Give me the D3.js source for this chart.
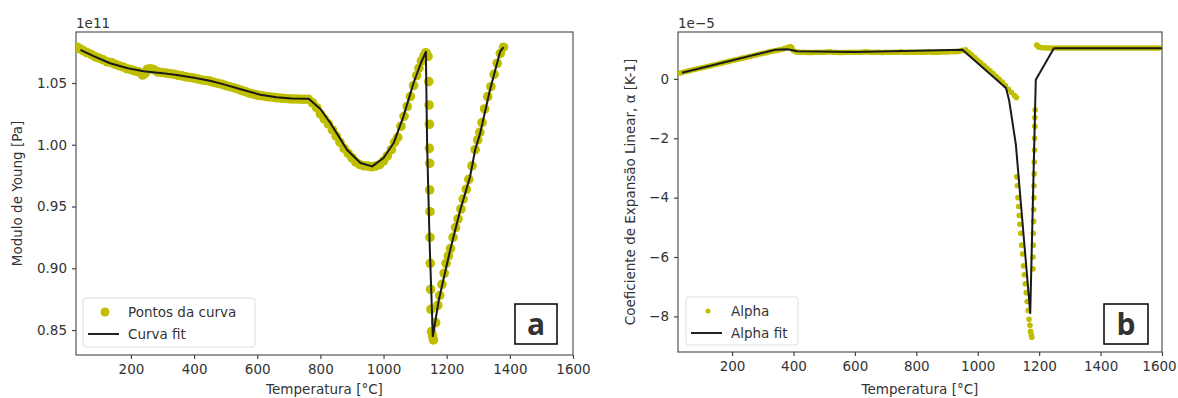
<!DOCTYPE html>
<html>
<head>
<meta charset="utf-8">
<script src="https://cdn.jsdelivr.net/npm/d3@7"></script>
<style>
  body { margin: 0; background: #fff; }
  svg text { font-family: "DejaVu Sans", sans-serif; fill: #333; }
</style>
</head>
<body>
<svg id="chart" width="1178" height="398"></svg>
<script>
// ---- panel a: Young's modulus (units of 1e11 Pa) ----
const young_pts_T = [30,40,50,62,75,88,100,112,125,138,150,162,175,188,200,212,225,237,245,252,262,272,285,298,312,325,338,350,362,375,388,400,412,425,438,450,462,475,488,500,512,525,538,550,562,575,588,600,612,625,638,650,662,675,688,700,712,725,738,750,762,
  775,788,800,812,825,838,850,862,875,888,900,912,925,938,950,962,975,988,1000,1012,1025,1035,1045,1055,1065,1075,1085,1095,1105,1112,1120,1128,1134,1141,
  1143,1144,1145,1145,1146,1146,1147,1147,1148,1149,1150,1152,1155,1158,
  1165,1172,1178,1185,1192,1198,1205,1212,1220,1228,1236,1245,1252,1262,1270,1280,1290,1298,1305,1312,1320,1330,1340,1350,1360,1370,1380];
const young_pts_E = [1.0790,1.0775,1.0760,1.0745,1.0730,1.0712,1.0700,1.0688,1.0672,1.0665,1.0652,1.0640,1.0630,1.0615,1.0608,1.0598,1.0590,1.0565,1.0578,1.0612,1.0615,1.0608,1.0590,1.0585,1.0580,1.0575,1.0570,1.0562,1.0558,1.0550,1.0545,1.0540,1.0532,1.0525,1.0520,1.0515,1.0505,1.0498,1.0490,1.0480,1.0470,1.0462,1.0452,1.0440,1.0430,1.0418,1.0410,1.0402,1.0398,1.0392,1.0388,1.0385,1.0380,1.0378,1.0375,1.0372,1.0370,1.0370,1.0368,1.0368,1.0368,
  1.0340,1.0300,1.0250,1.0210,1.0170,1.0120,1.0070,1.0020,0.9970,0.9930,0.9895,0.9860,0.9840,0.9830,0.9828,0.9822,0.9828,0.9840,0.9870,0.9910,0.9960,1.0020,1.0060,1.0150,1.0230,1.0310,1.0390,1.0480,1.0560,1.0620,1.0680,1.0720,1.0745,1.0715,
  1.0511,1.0322,1.0166,0.9971,0.9850,0.9634,0.9458,0.9251,0.9040,0.8830,0.8668,0.8487,0.8452,0.8420,
  0.8560,0.8700,0.8780,0.8870,0.8960,0.9040,0.9100,0.9160,0.9250,0.9330,0.9400,0.9480,0.9560,0.9640,0.9720,0.9830,0.9960,1.0040,1.0100,1.0180,1.0290,1.0390,1.0470,1.0570,1.0660,1.0740,1.0790];
const young_fit_T = [40,80,134,190,240,300,345,400,450,500,556,610,661,710,763,800,832,860,884,927,964,1000,1032,1063,1095,1118,1134,1138,1146,1156,1175,1211,1243,1274,1290,1306,1337,1369,1380];
const young_fit_E = [1.0768,1.0720,1.0660,1.0620,1.0595,1.0580,1.0565,1.0542,1.0519,1.0485,1.0443,1.0405,1.0384,1.0375,1.0372,1.0290,1.0174,1.0060,0.9960,0.9852,0.9825,0.9893,1.0014,1.0230,1.0500,1.0660,1.0752,1.0000,0.9200,0.8450,0.8743,0.9148,0.9472,0.9741,0.9958,1.0094,1.0443,1.0752,1.0790];

// ---- panel b: thermal expansion coefficient (units of 1e-5 1/K) ----
const alpha_pts_T = [30,40,50,60,70,80,90,100,110,120,130,140,150,160,170,180,190,200,210,220,230,240,250,260,270,280,290,300,310,320,330,340,350,360,370,380,390,395,400,410,
  420,430,440,450,460,470,480,490,500,510,520,530,540,550,560,570,580,590,600,610,620,630,640,650,660,670,680,690,700,710,720,730,740,750,760,770,780,790,800,810,820,830,840,850,860,870,880,890,900,910,920,930,940,950,
  960,970,980,990,1000,1010,1020,1030,1040,1050,1060,1070,1080,1090,1100,1110,1120,1126,
  1127,1129,1131,1133,1135,1137,1140,1143,1146,1149,1152,1155,1158,1161,1164,1167,1170,1172,1174,1176,
  1180,1180,1181,1181,1182,1182,1183,1183,1184,1184,1185,1185,1186,1186,1187,
  1192,1196,1200,1210,1220,1230,1240,1250,1260,1270,1280,1290,1300,1310,1320,1330,1340,1350,1360,1370,1380,1390,1400,1410,1420,1430,1440,1450,1460,1470,1480,1490,1500,1510,1520,1530,1540,1550,1560,1570,1580,1590,1600];
const alpha_pts_v = [0.20,0.22,0.25,0.27,0.30,0.32,0.35,0.37,0.39,0.42,0.44,0.47,0.49,0.52,0.54,0.57,0.59,0.62,0.64,0.66,0.69,0.71,0.74,0.76,0.79,0.81,0.84,0.86,0.88,0.91,0.93,0.95,0.97,0.99,1.02,1.06,1.09,1.05,0.95,0.91,
  0.90,0.90,0.90,0.89,0.89,0.90,0.90,0.90,0.90,0.91,0.91,0.90,0.90,0.89,0.89,0.90,0.90,0.90,0.90,0.90,0.90,0.91,0.91,0.90,0.90,0.90,0.90,0.89,0.90,0.90,0.90,0.90,0.90,0.91,0.90,0.90,0.90,0.90,0.90,0.90,0.90,0.90,0.91,0.90,0.90,0.90,0.91,0.91,0.91,0.92,0.92,0.92,0.93,0.96,
  0.98,0.90,0.81,0.72,0.63,0.54,0.45,0.36,0.27,0.18,0.09,-0.01,-0.11,-0.22,-0.35,-0.46,-0.56,-0.63,
  -3.3,-3.6,-4.0,-4.3,-4.6,-4.9,-5.2,-5.6,-5.9,-6.3,-6.6,-6.9,-7.2,-7.5,-7.8,-8.1,-8.3,-8.5,-8.6,-8.7,
  -6.4,-6.0,-5.6,-5.2,-4.8,-4.4,-4.0,-3.6,-3.2,-2.8,-2.4,-2.0,-1.6,-1.3,-1.05,
  1.14,1.10,1.07,1.05,1.05,1.04,1.04,1.04,1.04,1.04,1.04,1.04,1.04,1.04,1.04,1.04,1.04,1.04,1.04,1.04,1.04,1.04,1.04,1.04,1.04,1.04,1.04,1.04,1.04,1.04,1.04,1.04,1.04,1.04,1.04,1.04,1.04,1.04,1.04,1.04,1.04,1.04,1.04];
const alpha_fit_T = [37,341,380,412,600,950,1092,1102,1124,1171,1189,1248,1600];
const alpha_fit_v = [0.21,0.98,1.00,0.93,0.91,0.98,-0.31,-0.71,-2.20,-7.89,-0.03,1.03,1.03];

const x_ticks = [200,400,600,800,1000,1200,1400,1600];
const young_ticks = [0.85,0.90,0.95,1.00,1.05];
const young_tick_labels = ["0.85","0.90","0.95","1.00","1.05"];
const alpha_ticks = [-8,-6,-4,-2,0];
const alpha_tick_labels = ["\u22128","\u22126","\u22124","\u22122","0"];

const svg = d3.select("#chart");
const YELLOW = "#bfbf00";

function draw_panel(cfg) {
  const g = svg.append("g");
  const x = d3.scaleLinear().domain(cfg.xdom).range([cfg.box.x0, cfg.box.x1]);
  const y = d3.scaleLinear().domain(cfg.ydom).range([cfg.box.y1, cfg.box.y0]);

  // frame
  g.append("rect")
    .attr("x", cfg.box.x0).attr("y", cfg.box.y0)
    .attr("width", cfg.box.x1 - cfg.box.x0).attr("height", cfg.box.y1 - cfg.box.y0)
    .attr("fill", "none").attr("stroke", "#555").attr("stroke-width", 1.2);

  const clip_id = "clip" + cfg.id;
  g.append("clipPath").attr("id", clip_id).append("rect")
    .attr("x", cfg.box.x0).attr("y", cfg.box.y0)
    .attr("width", cfg.box.x1 - cfg.box.x0).attr("height", cfg.box.y1 - cfg.box.y0);

  const plot = g.append("g").attr("clip-path", `url(#${clip_id})`);

  plot.selectAll("circle")
    .data(d3.zip(cfg.pts_x, cfg.pts_y))
    .join("circle")
    .attr("cx", d => x(d[0]))
    .attr("cy", d => y(d[1]))
    .attr("r", cfg.r)
    .attr("fill", YELLOW);

  const line = d3.line().x(d => x(d[0])).y(d => y(d[1]));
  plot.append("path")
    .attr("d", line(d3.zip(cfg.fit_x, cfg.fit_y)))
    .attr("fill", "none").attr("stroke", "#1a1a1a").attr("stroke-width", 2)
    .attr("stroke-linejoin", "round");

  // axes
  const xa = g.append("g").attr("transform", `translate(0,${cfg.box.y1})`)
    .call(d3.axisBottom(x).tickValues(x_ticks).tickSize(4).tickPadding(5).tickFormat(d3.format("d")));
  const ya = g.append("g").attr("transform", `translate(${cfg.box.x0},0)`)
    .call(d3.axisLeft(y).tickValues(cfg.yticks).tickSize(4).tickPadding(5)
      .tickFormat((d, i) => cfg.ylabels[i]));
  [xa, ya].forEach(a => {
    a.select(".domain").remove();
    a.selectAll("line").attr("stroke", "#444").attr("stroke-width", 1.2);
    a.selectAll("text").style("font-size", "13.5px").attr("fill", "#333")
      .style("font-family", "'DejaVu Sans', sans-serif");
  });
  // keep the last x label inside the window
  xa.selectAll(".tick").filter(d => d === 1600 && cfg.box.x1 > 1100)
    .select("text").attr("text-anchor", "end").attr("dx", "1.05em");

  // offset text and axis labels
  g.append("text").attr("x", cfg.box.x0).attr("y", 28).style("font-size", "13.5px").text(cfg.offset);
  g.append("text")
    .attr("x", (cfg.box.x0 + cfg.box.x1) / 2).attr("y", 394)
    .attr("text-anchor", "middle").style("font-size", "13.5px")
    .text("Temperatura [°C]");
  g.append("text")
    .attr("transform", `translate(${cfg.ylab_x},${(cfg.box.y0 + cfg.box.y1) / 2}) rotate(-90)`)
    .attr("text-anchor", "middle").attr("dy", "0.35em").style("font-size", "13.5px")
    .text(cfg.ylabel);

  // legend
  const L = cfg.legend;
  g.append("rect").attr("x", L.x).attr("y", L.y).attr("width", L.w).attr("height", L.h)
    .attr("rx", 3).attr("fill", "white").attr("fill-opacity", 0.8)
    .attr("stroke", "#ddd");
  g.append("circle").attr("cx", L.x + 22).attr("cy", L.y + 14).attr("r", L.r).attr("fill", YELLOW);
  g.append("line").attr("x1", L.x + 5).attr("x2", L.x + 36)
    .attr("y1", L.y + 36).attr("y2", L.y + 36)
    .attr("stroke", "#222").attr("stroke-width", 2);
  g.append("text").attr("x", L.x + 45).attr("y", L.y + 14).attr("dy", "0.35em")
    .style("font-size", "13.5px").text(L.labels[0]);
  g.append("text").attr("x", L.x + 45).attr("y", L.y + 36).attr("dy", "0.35em")
    .style("font-size", "13.5px").text(L.labels[1]);

  // panel tag
  const T = cfg.tag;
  g.append("rect").attr("x", T.x).attr("y", T.y).attr("width", T.w).attr("height", 40)
    .attr("fill", "white").attr("stroke", "black").attr("stroke-width", 1.5);
  g.append("text").attr("x", T.x + T.w / 2).attr("y", T.y + 20).attr("dy", "0.36em")
    .attr("text-anchor", "middle")
    .style("font-family", "'Open Sans', 'Liberation Sans', sans-serif")
    .style("font-weight", "bold").style("font-size", "30px").attr("fill", "black")
    .text(T.text);
}

draw_panel({
  id: "a",
  box: { x0: 76, x1: 573, y0: 32, y1: 355 },
  xdom: [26, 1600], ydom: [0.8298, 1.0913],
  pts_x: young_pts_T, pts_y: young_pts_E, r: 4.8,
  fit_x: young_fit_T, fit_y: young_fit_E,
  yticks: young_ticks, ylabels: young_tick_labels,
  offset: "1e11", ylab_x: 17, ylabel: "Modulo de Young [Pa]",
  legend: { x: 83, y: 298, w: 172, h: 49, r: 4.5, labels: ["Pontos da curva", "Curva fit"] },
  tag: { x: 515, y: 304, w: 42, text: "a" }
});

draw_panel({
  id: "b",
  box: { x0: 678, x1: 1162, y0: 32, y1: 352 },
  xdom: [24, 1600], ydom: [-9.2, 1.58],
  pts_x: alpha_pts_T, pts_y: alpha_pts_v, r: 2.8,
  fit_x: alpha_fit_T, fit_y: alpha_fit_v,
  yticks: alpha_ticks, ylabels: alpha_tick_labels,
  offset: "1e\u22125", ylab_x: 630, ylabel: "Coeficiente de Expansão Linear, α [K-1]",
  legend: { x: 686, y: 297, w: 112, h: 48, r: 2.5, labels: ["Alpha", "Alpha fit"] },
  tag: { x: 1104, y: 304, w: 44, text: "b" }
});
</script>
</body>
</html>
